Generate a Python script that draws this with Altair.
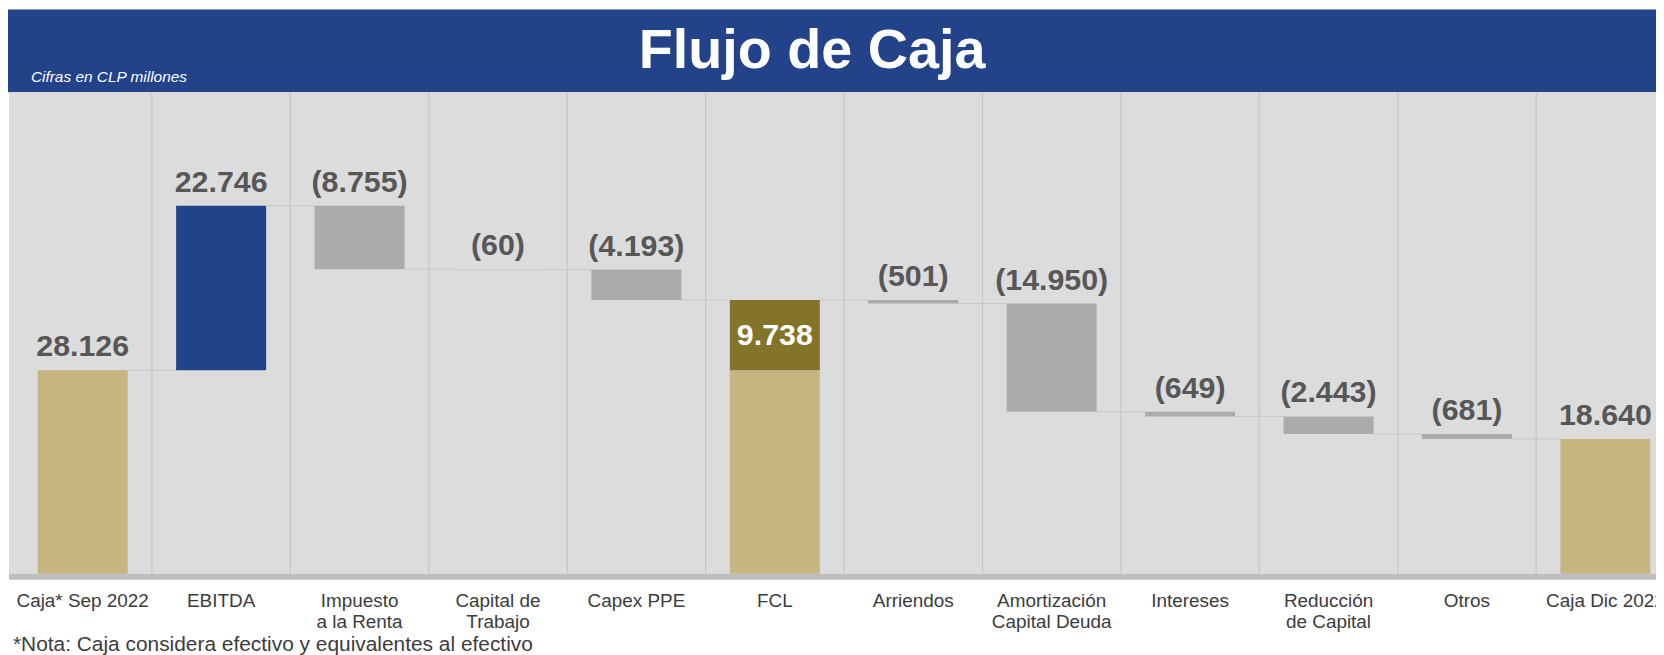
import altair as alt
import pandas as pd

# ---------------- data ----------------
categories = ["Caja* Sep 2022", "EBITDA", "Impuesto\na la Renta", "Capital de\nTrabajo",
              "Capex PPE", "FCL", "Arriendos", "Amortización\nCapital Deuda", "Intereses",
              "Reducción\nde Capital", "Otros", "Caja Dic 2022"]
values = [28126, 22746, -8755, -60, -4193, 9738, -501, -14950, -649, -2443, -681, 18640]
value_labels = ["28.126", "22.746", "(8.755)", "(60)", "(4.193)", "9.738", "(501)",
                "(14.950)", "(649)", "(2.443)", "(681)", "18.640"]
kinds = ["total", "pos", "neg", "neg", "neg", "subtotal", "neg", "neg", "neg", "neg", "neg", "total"]

title_text = "Flujo de Caja"
subtitle_text = "Cifras en CLP millones"
note_text = "*Nota: Caja considera efectivo y equivalentes al efectivo"

TAN = "#c5b682"
OLIVE = "#837429"
BLUE = "#22428a"
GRAY_BAR = "#ababab"

# ---------------- derived tables ----------------
bar_rows, conn_rows, lab_rows, inner_rows = [], [], [], []
running = 0
opening = values[0]
half = 0.325
for i, (v, k, lab) in enumerate(zip(values, kinds, value_labels)):
    if k == "total":
        start, end = 0, v
        running = v
        bar_rows.append(dict(idx=i, x0=i - half, x1=i + half, start=start, end=end, color=TAN))
        lab_rows.append(dict(idx=i, top=end, label=lab))
    elif k == "subtotal":
        bar_rows.append(dict(idx=i, x0=i - half, x1=i + half, start=0, end=opening, color=TAN))
        bar_rows.append(dict(idx=i, x0=i - half, x1=i + half, start=running - v, end=running, color=OLIVE))
        inner_rows.append(dict(idx=i, mid=running - v / 2, label=lab))
    else:
        start, end = running, running + v
        running = end
        bar_rows.append(dict(idx=i, x0=i - half, x1=i + half, start=start, end=end,
                             color=BLUE if k == "pos" else GRAY_BAR))
        lab_rows.append(dict(idx=i, top=max(start, end), label=lab))
    if i < len(values) - 1:
        conn_rows.append(dict(xa=i + half, xb=i + 1 - half, level=running))

bars = pd.DataFrame(bar_rows)
conns = pd.DataFrame(conn_rows)
labs = pd.DataFrame(lab_rows)
inner = pd.DataFrame(inner_rows)
cats = pd.DataFrame(dict(idx=list(range(len(categories))), cat=categories))
divs = pd.DataFrame(dict(pos=[i + 0.5 for i in range(len(categories) - 1)]))
one = pd.DataFrame(dict(t=[title_text], s=[subtitle_text], n=[note_text]))

W, H = 1656, 647
TOP, BASE = 83, 567

xs = alt.Scale(domain=[-0.5, 11.5], range=[5.5, 5.5 + 139.1 * 12], nice=False, zero=False)
ys = alt.Scale(domain=[0, 78000], range=[BASE, 0], nice=False, zero=False)
FONT = "Liberation Sans"

header = alt.Chart(one).mark_rect(color=BLUE).encode(
    x=alt.value(0), x2=alt.value(W), y=alt.value(0), y2=alt.value(TOP))
bg = alt.Chart(one).mark_rect(color="#dcdcdc").encode(
    x=alt.value(1), x2=alt.value(W), y=alt.value(TOP), y2=alt.value(BASE))
baseline = alt.Chart(one).mark_rect(color="#bebebe").encode(
    x=alt.value(1), x2=alt.value(W), y=alt.value(BASE), y2=alt.value(BASE + 6))

dividers = alt.Chart(divs).mark_rule(color="#c6c6c6", strokeWidth=1.2).encode(
    x=alt.X("pos:Q", scale=xs, axis=None), y=alt.value(TOP), y2=alt.value(BASE))

connectors = alt.Chart(conns).mark_rule(color="#c8c8c8", strokeWidth=1).encode(
    x=alt.X("xa:Q", scale=xs, axis=None), x2="xb:Q",
    y=alt.Y("level:Q", scale=ys, axis=None))

bar_layer = alt.Chart(bars).mark_rect().encode(
    x=alt.X("x0:Q", scale=xs, axis=None), x2="x1:Q",
    y=alt.Y("start:Q", scale=ys, axis=None), y2="end:Q",
    color=alt.Color("color:N", scale=None))

top_labels = alt.Chart(labs).mark_text(
    font=FONT, fontSize=30.5, fontWeight="bold", color="#575757", baseline="alphabetic", dy=-14
).encode(x=alt.X("idx:Q", scale=xs, axis=None), y=alt.Y("top:Q", scale=ys, axis=None), text="label:N")

inner_labels = alt.Chart(inner).mark_text(
    font=FONT, fontSize=30.5, fontWeight="bold", color="white", baseline="middle", dy=1
).encode(x=alt.X("idx:Q", scale=xs, axis=None), y=alt.Y("mid:Q", scale=ys, axis=None), text="label:N")

cat_labels = alt.Chart(cats).mark_text(
    font=FONT, fontSize=19, color="#3c3c3c", baseline="alphabetic", lineBreak="\n", lineHeight=21
).encode(x=alt.X("idx:Q", scale=xs, axis=None), y=alt.value(600), text="cat:N")

title = alt.Chart(one).mark_text(
    font=FONT, fontSize=56, fontWeight="bold", color="white", baseline="alphabetic", align="center"
).encode(x=alt.value(808), y=alt.value(59), text="t:N")

subtitle = alt.Chart(one).mark_text(
    font=FONT, fontSize=15.5, fontStyle="italic", color="white", baseline="alphabetic", align="left"
).encode(x=alt.value(23), y=alt.value(73), text="s:N")

note = alt.Chart(one).mark_text(
    font=FONT, fontSize=21, color="#3c3c3c", baseline="alphabetic", align="left"
).encode(x=alt.value(5), y=alt.value(645), text="n:N")

chart = alt.layer(
    header, bg, baseline, dividers, connectors, bar_layer, top_labels, inner_labels,
    cat_labels, title, subtitle, note
).properties(
    width=W, height=H, padding=0,
    autosize=alt.AutoSizeParams(type="none"),
    background="white",
).configure_view(stroke=None)

chart.save("out.html", embed_options={"renderer": "svg", "actions": False})
